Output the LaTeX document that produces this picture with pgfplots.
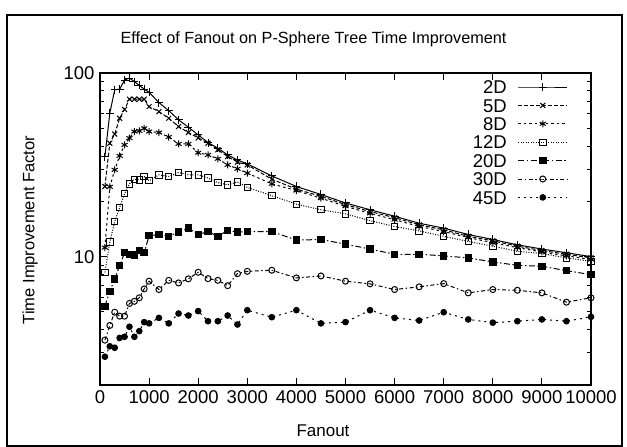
\documentclass[border=0pt]{standalone}
\usepackage{fontspec}
\setmainfont{Liberation Sans}
\usepackage{pgfplots}
\usepackage{pgfplotstable}
\pgfplotsset{compat=1.18}

% fanout vs. time improvement factor, one column per dimensionality
\pgfplotstableread{
x     d2    d5    d8    d12   d20   d30   d45
100   35.1  24.1  11.2  8.2   5.37  3.51  2.85
200   60.4  41.5  24.0  12.0  6.47  4.22  3.25
300   81.2  46.5  29.7  15.5  7.57  4.98  3.19
400   81.5  56.7  35.4  18.5  8.93  4.74  3.61
500   91.6  63.3  40.6  22.0  10.5  4.74  3.66
600   93.8  72.0  44.2  24.9  10.3  5.56  4.15
700   89.8  72.0  48.0  26.4  10.2  5.71  3.66
800   85.5  72.0  48.4  26.2  10.8  5.97  3.93
900   81.8  72.0  50.0  27.3  10.5  6.67  4.40
1000  78.5  65.6  48.0  25.9  13.0  7.35  4.33
1200  69.0  61.6  47.4  27.9  13.2  6.62  4.64
1400  62.4  56.7  44.8  27.3  12.9  7.43  4.33
1600  55.6  51.1  41.1  28.7  13.6  7.19  4.90
1800  50.7  47.4  41.1  27.9  14.3  7.57  4.78
2000  46.0  44.3  36.8  27.9  13.2  8.22  5.05
2200  41.8  41.5  35.8  26.8  13.7  7.59  4.45
2400  39.0  38.2  34.1  25.3  12.9  7.43  4.45
2600  35.8  35.1  31.6  24.6  13.9  6.95  4.78
2800  33.6  32.7  30.1  25.5  13.6  8.08  4.27
3000  32.0  31.6  28.5  23.8  13.7  8.32  5.11
3500  27.5  26.4  24.9  21.5  13.7  8.43  4.68
4000  24.1  23.3  22.9  19.3  12.3  7.66  5.11
4500  21.8  21.3  20.8  18.0  12.4  7.85  4.33
5000  19.6  19.2  18.8  17.1  11.7  7.35  4.40
5500  18.0  17.6  17.2  15.7  11.0  7.11  5.11
6000  16.6  16.3  15.9  14.6  10.3  6.62  4.64
6500  15.2  14.9  14.6  13.8  10.3  6.85  4.49
7000  14.3  14.0  13.7  12.9  10.1  7.13  4.98
7500  13.2  12.9  12.7  12.1  9.84  6.35  4.55
8000  12.4  12.2  11.9  11.4  9.36  6.62  4.37
8500  11.6  11.4  11.2  10.7  8.97  6.56  4.45
9000  11.0  10.8  10.6  10.4  8.86  6.35  4.55
9500  10.5  10.3  10.1  9.84  8.39  5.65  4.45
10000 10.0  9.85  9.65  9.43  7.98  5.97  4.70
}\fanout

\begin{document}
\fontsize{16bp}{19bp}\selectfont
\begin{tikzpicture}[font=\fontsize{16bp}{19bp}\selectfont]
\useasboundingbox (-100bp,-62bp) rectangle (527bp,385bp);
\draw[line width=1.3bp] (-93bp,-61bp) rectangle (522bp,370bp);
\begin{axis}[
  scale only axis, width=491bp, height=312bp,
  ymode=log,
  xmin=0, xmax=10000, ymin=2, ymax=100,
  xtick={0,1000,...,10000},
  ytick={10,100},
  minor ytick={2,3,4,5,6,7,8,9,20,30,40,50,60,70,80,90},
  log ticks with fixed point,
  scaled x ticks=false,
  /pgf/number format/assume math mode=true,
  tick label style={font=\fontsize{18.5bp}{22bp}\selectfont},
  xticklabel style={/pgf/number format/1000 sep={}},
  axis line style={line width=1.5bp},
  tick style={line width=0.9bp, black},
  major tick length=7bp, minor tick length=4bp,
  title={Effect of Fanout on P-Sphere Tree Time Improvement},
  title style={at={(0.4348,1.0897)}, anchor=center, font=\fontsize{16.2bp}{19bp}\selectfont},
  xlabel={Fanout},
  xlabel style={at={(0.4542,-0.1474)}, anchor=center, font=\fontsize{17bp}{20bp}\selectfont},
  ylabel={Time Improvement Factor},
  ylabel style={at={(-0.1426,0.4968)}, anchor=center, font=\fontsize{16.5bp}{20bp}\selectfont},
  every axis plot/.append style={line width=1bp, black},
  legend image code/.code={\draw[mark repeat=2,mark phase=2] plot coordinates {(0bp,0bp)(24.5bp,0bp)(49bp,0bp)};},
  legend plot pos=right,
  legend cell align=right,
  legend style={draw=none, fill=none, at={(1,1)}, anchor=north east,
    xshift=-23bp, yshift=-7.2bp, inner sep=0pt, row sep=5.2bp, column sep=11bp,
    font=\fontsize{18.5bp}{22bp}\selectfont,
    nodes={inner sep=0pt, text height=13.2bp, text depth=0pt}},
]
\addplot[mark=+, mark size=4bp] table[x=x, y=d2] {\fanout};
\addplot[dash pattern=on 4bp off 2bp, mark=x, mark size=3.5bp, mark options={solid}] table[x=x, y=d5] {\fanout};
\addplot[dash pattern=on 2.5bp off 3bp, mark=asterisk, mark size=3.5bp, mark options={solid}] table[x=x, y=d8] {\fanout};
\addplot[dash pattern=on 1bp off 1.5bp, mark=square, mark size=3.2bp, mark options={solid}] table[x=x, y=d12] {\fanout};
\addplot[dash pattern=on 6bp off 2.5bp on 1.5bp off 2.5bp, mark=square*, mark size=3.2bp, mark options={solid}] table[x=x, y=d20] {\fanout};
\addplot[dash pattern=on 4bp off 2.5bp on 1.5bp off 2.5bp, mark=o, mark size=3bp, mark options={solid}] table[x=x, y=d30] {\fanout};
\addplot[dash pattern=on 2bp off 4bp, mark=*, mark size=2.8bp, mark options={solid}] table[x=x, y=d45] {\fanout};
\legend{2D, 5D, 8D, 12D, 20D, 30D, 45D}
\end{axis}
\end{tikzpicture}
\end{document}
